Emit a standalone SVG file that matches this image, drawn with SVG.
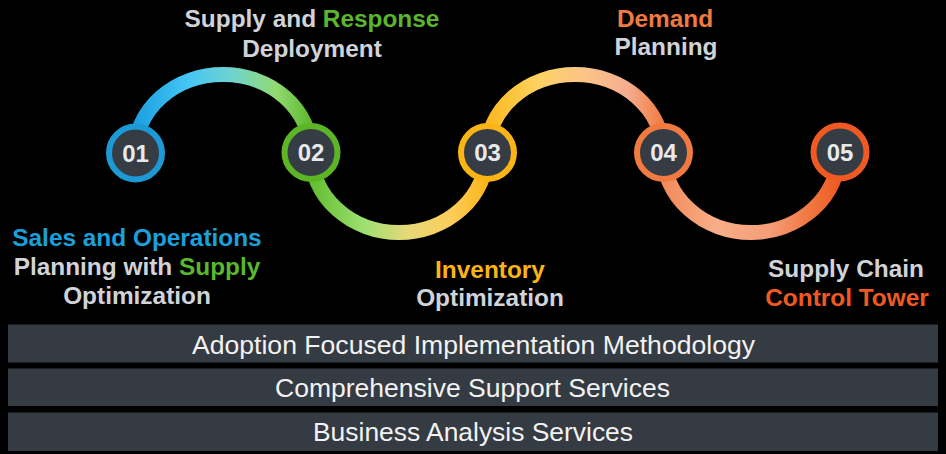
<svg xmlns="http://www.w3.org/2000/svg" width="946" height="454" viewBox="0 0 946 454">
  <style>
    .lbl { font-family: "Liberation Sans", Arial, sans-serif; font-weight: bold; font-size: 24.4px; text-anchor: middle; fill: #d0d3d7; }
    .num { font-family: "Liberation Sans", Arial, sans-serif; font-weight: bold; font-size: 24px; text-anchor: middle; fill: #e8e9eb; }
    .bar { fill: #353b43; }
    .bartxt { font-family: "Liberation Sans", Arial, sans-serif; font-size: 25px; text-anchor: middle; fill: #f2f2f2; }
    .arc { fill: none; stroke-width: 15; }
    .hub { fill: #363c44; stroke-width: 6; }
    .blue { fill: #1ba0dc; }
    .green { fill: #5ab72a; }
    .amber { fill: #fbb415; }
    .orange { fill: #f07a40; }
    .red { fill: #f05a22; }
  </style>
  <defs>
    <linearGradient id="g1" gradientUnits="userSpaceOnUse" x1="135" y1="0" x2="311" y2="0">
      <stop offset="0" stop-color="#1b9fe0"/>
      <stop offset="0.3" stop-color="#45c6f5"/>
      <stop offset="0.55" stop-color="#6fd3d0"/>
      <stop offset="0.8" stop-color="#92da72"/>
      <stop offset="1" stop-color="#5cb82c"/>
    </linearGradient>
    <linearGradient id="g2" gradientUnits="userSpaceOnUse" x1="311" y1="0" x2="487" y2="0">
      <stop offset="0" stop-color="#62bd30"/>
      <stop offset="0.3" stop-color="#9de070"/>
      <stop offset="0.55" stop-color="#e6d878"/>
      <stop offset="0.8" stop-color="#fccd5a"/>
      <stop offset="1" stop-color="#fbb51a"/>
    </linearGradient>
    <linearGradient id="g3" gradientUnits="userSpaceOnUse" x1="487" y1="0" x2="663" y2="0">
      <stop offset="0" stop-color="#fbb81e"/>
      <stop offset="0.3" stop-color="#fdd264"/>
      <stop offset="0.55" stop-color="#fbc488"/>
      <stop offset="0.8" stop-color="#f6ad8e"/>
      <stop offset="1" stop-color="#f07a40"/>
    </linearGradient>
    <linearGradient id="g4" gradientUnits="userSpaceOnUse" x1="663" y1="0" x2="839" y2="0">
      <stop offset="0" stop-color="#f38a5a"/>
      <stop offset="0.3" stop-color="#f7ae88"/>
      <stop offset="0.6" stop-color="#f59e78"/>
      <stop offset="0.85" stop-color="#f0743e"/>
      <stop offset="1" stop-color="#f05a22"/>
    </linearGradient>
  </defs>
  <rect width="946" height="454" fill="#000"/>

  <!-- wave connectors between the numbered hubs -->
  <g id="connectors">
    <path class="arc" stroke="url(#g1)" d="M135 152.5 A88 78 0 0 1 311 152.5"/>
    <path class="arc" stroke="url(#g2)" d="M311 152.5 A88 80 0 0 0 487 152.5"/>
    <path class="arc" stroke="url(#g3)" d="M487 152.5 A88 78 0 0 1 663 152.5"/>
    <path class="arc" stroke="url(#g4)" d="M663 152.5 A88 80 0 0 0 839 152.5"/>
  </g>

  <g id="step01">
    <circle class="hub" cx="135.5" cy="153" r="26.5" stroke="#1b9ad6"/>
    <text class="num" x="135.5" y="161.5">01</text>
    <text class="lbl" x="137" y="246"><tspan class="blue">Sales and Operations</tspan></text>
    <text class="lbl" x="137" y="275">Planning with <tspan class="green">Supply</tspan></text>
    <text class="lbl" x="137" y="304">Optimization</text>
  </g>

  <g id="step02">
    <circle class="hub" cx="311" cy="152.5" r="26.5" stroke="#5cb525"/>
    <text class="num" x="311" y="161">02</text>
    <text class="lbl" x="312" y="27">Supply and <tspan class="green">Response</tspan></text>
    <text class="lbl" x="312" y="57">Deployment</text>
  </g>

  <g id="step03">
    <circle class="hub" cx="487.5" cy="152.5" r="26.5" stroke="#fbb415"/>
    <text class="num" x="487.5" y="161">03</text>
    <text class="lbl amber" x="490" y="278">Inventory</text>
    <text class="lbl" x="490" y="306">Optimization</text>
  </g>

  <g id="step04">
    <circle class="hub" cx="663.5" cy="152.5" r="26.5" stroke="#f07a40"/>
    <text class="num" x="663.5" y="161">04</text>
    <text class="lbl orange" x="665" y="27">Demand</text>
    <text class="lbl" x="666" y="55">Planning</text>
  </g>

  <g id="step05">
    <circle class="hub" cx="840" cy="152" r="26.5" stroke="#f05a22"/>
    <text class="num" x="840" y="160.5">05</text>
    <text class="lbl" x="846" y="277">Supply Chain</text>
    <text class="lbl red" x="847" y="306">Control Tower</text>
  </g>

  <g id="bar-adoption">
    <rect class="bar" x="8" y="324.5" width="930" height="38"/>
    <text class="bartxt" x="473.5" y="354" textLength="563" lengthAdjust="spacingAndGlyphs">Adoption Focused Implementation Methodology</text>
  </g>
  <g id="bar-support">
    <rect class="bar" x="8" y="368.5" width="930" height="37.5"/>
    <text class="bartxt" x="472.5" y="397" textLength="395" lengthAdjust="spacingAndGlyphs">Comprehensive Support Services</text>
  </g>
  <g id="bar-analysis">
    <rect class="bar" x="8" y="412.5" width="930" height="38.5"/>
    <text class="bartxt" x="473" y="441" textLength="320" lengthAdjust="spacingAndGlyphs">Business Analysis Services</text>
  </g>
</svg>
